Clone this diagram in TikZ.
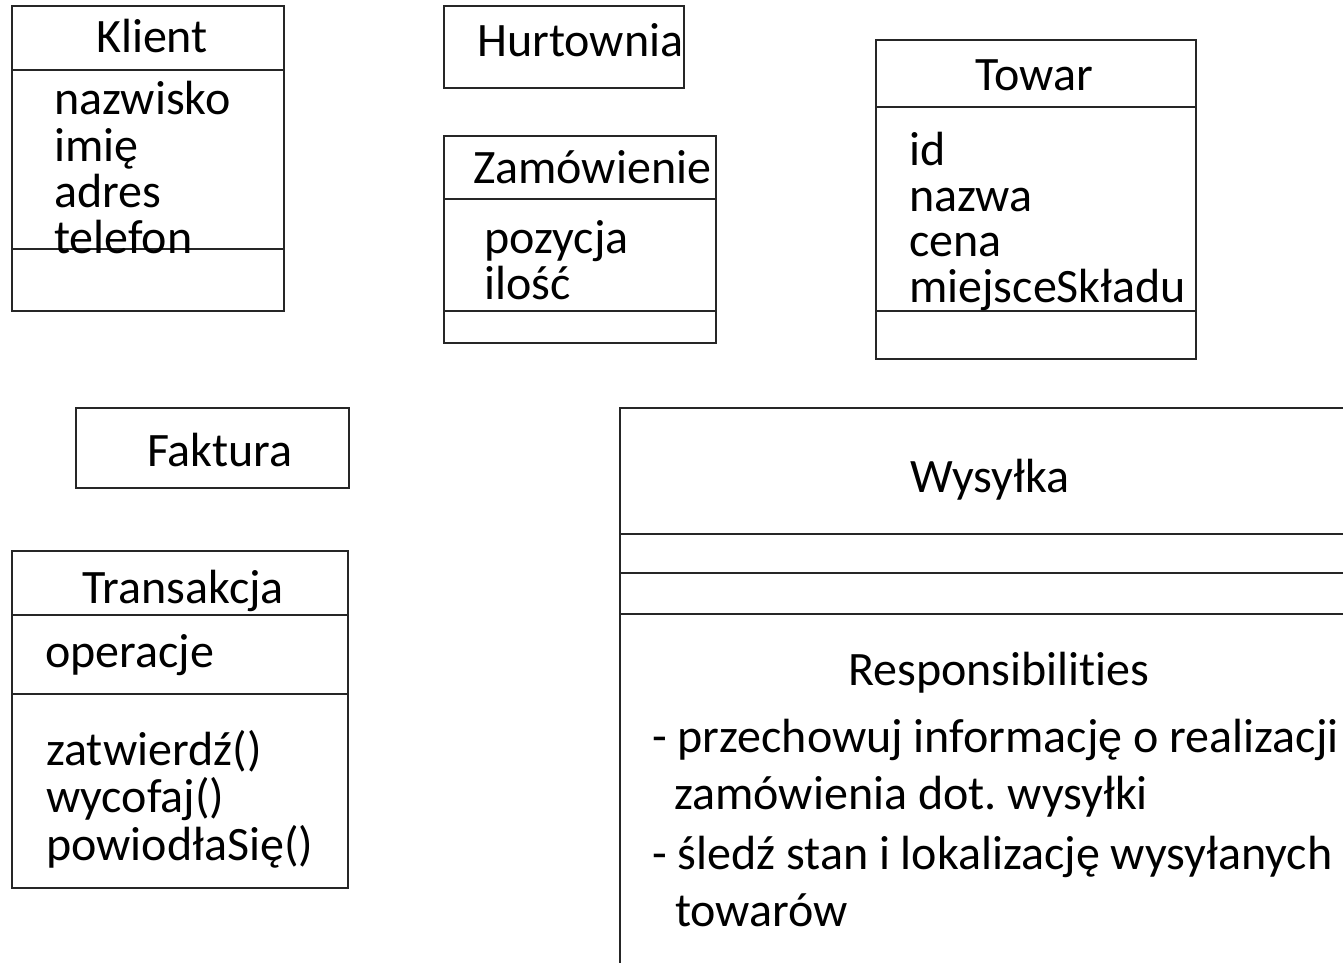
\documentclass[tikz,border=0pt]{standalone}
\usepackage{fontspec}
\setmainfont{Carlito}[Ligatures=NoCommon]
\frenchspacing
\begin{document}
\begin{tikzpicture}[x=1pt,y=-1pt,
  umlbox/.style={draw=black!85,line width=1.6pt,rectangle,anchor=north west,inner sep=0pt},
  sepline/.style={draw=black!85,line width=1.6pt},
  txt/.style={inner sep=0pt,font=\fontsize{48}{46}\selectfont},
  lbl/.style={txt,anchor=base west},
  ttl/.style={txt,anchor=base}]
\clip (0,0) rectangle (1343,963);

% Klient
\node[umlbox,minimum width=272pt,minimum height=305pt] (klient) at (11,5) {};
\draw[sepline] (klient.west |- 0,70) -- (klient.east |- 0,70);
\draw[sepline] (klient.west |- 0,249) -- (klient.east |- 0,249);
\node[ttl] (klientT) at (152,53) {Klient};
\node[lbl] (kA1) at (54,115) {nazwisko};
\node[lbl] (kA2) at (54,161) {imię};
\node[lbl] (kA3) at (54,207) {adres};
\node[lbl] (kA4) at (54,253) {telefon};

% Hurtownia
\node[umlbox,minimum width=240pt,minimum height=82pt] (hurt) at (443,5) {};
\node[lbl] (hurtT) at (477,57) {Hurtownia};

% Zamówienie
\node[umlbox,minimum width=272pt,minimum height=207pt] (zam) at (443,135) {};
\draw[sepline] (zam.west |- 0,199) -- (zam.east |- 0,199);
\draw[sepline] (zam.west |- 0,311) -- (zam.east |- 0,311);
\node[lbl] (zamT) at (473,183) {Zamówienie};
\node[lbl] (zA1) at (484,253) {pozycja};
\node[lbl] (zA2) at (484,299) {ilość};

% Towar
\node[umlbox,minimum width=320pt,minimum height=319pt] (towar) at (875,39) {};
\draw[sepline] (towar.west |- 0,107) -- (towar.east |- 0,107);
\draw[sepline] (towar.west |- 0,311) -- (towar.east |- 0,311);
\node[ttl] (towarT) at (1034,91) {Towar};
\node[lbl] (tA1) at (909,165) {id};
\node[lbl] (tA2) at (909,211) {nazwa};
\node[lbl] (tA3) at (909,256) {cena};
\node[lbl] (tA4) at (909,302) {miejsceSkładu};

% Faktura
\node[umlbox,minimum width=273pt,minimum height=80pt] (fakt) at (75,407) {};
\node[lbl] (faktT) at (147,466) {Faktura};

% Transakcja
\node[umlbox,minimum width=336pt,minimum height=337pt] (trans) at (11,550) {};
\draw[sepline] (trans.west |- 0,615) -- (trans.east |- 0,615);
\draw[sepline] (trans.west |- 0,694) -- (trans.east |- 0,694);
\node[ttl] (transT) at (183,603) {Transakcja};
\node[lbl] (trA1) at (45,667) {operacje};
\node[lbl] (trM1) at (46,765) {zatwierdź()};
\node[lbl] (trM2) at (46,812) {wycofaj()};
\node[lbl] (trM3) at (46,860) {powiodłaSię()};

% Wysyłka (extends past the right and bottom edges)
\node[umlbox,minimum width=900pt,minimum height=700pt] (wys) at (619,407) {};
\draw[sepline] (wys.west |- 0,534) -- (wys.east |- 0,534);
\draw[sepline] (wys.west |- 0,573) -- (wys.east |- 0,573);
\draw[sepline] (wys.west |- 0,614) -- (wys.east |- 0,614);
\node[ttl] (wysT) at (990,492) {Wysyłka};
\node[ttl] (wysR) at (999,685) {Responsibilities};
\node[lbl] (wR1) at (652,752) {- przechowuj informację o realizacji};
\node[lbl] (wR2) at (674,809) {zamówienia dot. wysyłki};
\node[lbl] (wR3) at (652,869) {- śledź stan i lokalizację wysyłanych};
\node[lbl] (wR4) at (675,926) {towarów};
\end{tikzpicture}
\end{document}
